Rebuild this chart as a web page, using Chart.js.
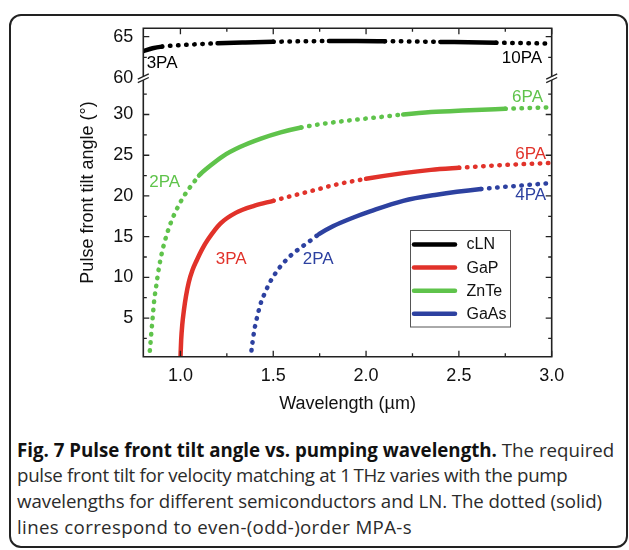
<!DOCTYPE html>
<html>
<head>
<meta charset="utf-8">
<script src="https://cdn.jsdelivr.net/npm/chart.js@4.4.1/dist/chart.umd.min.js"></script>
<style>
  body { margin: 0; background: #fff; }
  #wrap { position: relative; width: 629px; height: 550px; overflow: hidden; }
  #frame { position: absolute; left: 9px; top: 14px; width: 615px; height: 530px;
           border: 2px solid #222; border-radius: 12px; }
  #cv { position: absolute; left: 0; top: 0; }
  #caption { position: absolute; left: 17px; top: 436.5px; white-space: nowrap;
             font-family: "Open Sans"; font-size: 18.7px; line-height: 25.7px; color: #2b2b2b; }
  #caption b { color: #111; }
  .l2 { letter-spacing: -0.3px; }
  .l3 { letter-spacing: -0.1px; }
  .l4 { letter-spacing: 0.35px; }
</style>
</head>
<body>
<div id="wrap">
  <div id="frame"></div>
  <canvas id="cv" width="629" height="430"></canvas>
  <div id="caption"><b>Fig. 7 Pulse front tilt angle vs. pumping wavelength.</b> The required<br><span class="l2">pulse front tilt for velocity matching at 1&#8201;THz varies with the pump</span><br><span class="l3">wavelengths for different semiconductors and LN. The dotted (solid)</span><br><span class="l4">lines correspond to even-(odd-)order MPA-s</span></div>
</div>
<script>
// pulse front tilt (deg) vs pump wavelength (um)
const materials = ["cLN", "GaP", "ZnTe", "GaAs"]
const colors = ["#000000", "#e1322a", "#5fc34b", "#2d41a0"]
// band-gap wavelength: n-photon absorption sets in below n * this value
const gapWavelength = [0.3, 0.5, 0.55, 0.873]

const cLN_x = [0.80, 0.85, 0.90, 1.00, 1.10, 1.20, 1.35, 1.50, 1.65, 1.80, 1.95, 2.10, 2.25, 2.40, 2.55, 2.70, 2.85, 3.00]
const cLN_y = [63.25, 63.6, 63.8, 63.97, 64.1, 64.2, 64.3, 64.38, 64.44, 64.47, 64.47, 64.45, 64.42, 64.37, 64.32, 64.27, 64.22, 64.16]

const GaP_x = [1.000, 1.004, 1.010, 1.019, 1.030, 1.045, 1.065, 1.088, 1.118, 1.150, 1.215, 1.30, 1.40, 1.50, 1.59, 1.72, 1.84, 2.00, 2.20, 2.35, 2.50, 2.74, 3.00]
const GaP_y = [0, 2.3, 4.2, 6.0, 7.7, 9.4, 10.9, 12.1, 13.5, 14.7, 16.6, 17.95, 18.8, 19.4, 19.95, 20.7, 21.4, 22.1, 22.8, 23.2, 23.45, 23.8, 24.05]

const ZnTe_x = [0.831, 0.836, 0.843, 0.851, 0.859, 0.870, 0.883, 0.899, 0.919, 0.948, 0.983, 1.025, 1.073, 1.10, 1.16, 1.23, 1.32, 1.43, 1.54, 1.65, 1.75, 1.90, 2.04, 2.20, 2.35, 2.52, 2.75, 3.00]
const ZnTe_y = [0, 1.2, 3.1, 5.2, 7.2, 9.0, 11.0, 12.9, 14.7, 16.7, 18.5, 20.2, 21.7, 22.5, 23.7, 24.9, 26.0, 27.0, 27.8, 28.4, 28.8, 29.25, 29.6, 30.0, 30.3, 30.5, 30.7, 30.9]

const GaAs_x = [1.379, 1.384, 1.391, 1.397, 1.406, 1.415, 1.425, 1.438, 1.456, 1.471, 1.492, 1.515, 1.541, 1.573, 1.605, 1.645, 1.681, 1.711, 1.746, 1.824, 1.932, 2.022, 2.200, 2.380, 2.619, 2.741, 2.849, 3.000]
const GaAs_y = [0, 1.3, 2.4, 3.4, 4.4, 5.3, 6.2, 7.2, 8.1, 8.9, 9.8, 10.6, 11.4, 12.2, 12.9, 13.6, 14.2, 14.7, 15.3, 16.3, 17.35, 18.1, 19.4, 20.15, 20.85, 21.1, 21.3, 21.6]

const seriesX = [cLN_x, GaP_x, ZnTe_x, GaAs_x]
const seriesY = [cLN_y, GaP_y, ZnTe_y, GaAs_y]
const seriesAxis = ["yTop", "y", "y", "y"]

// ticks
const xMajor = [1.0, 1.5, 2.0, 2.5, 3.0]
const xMinor = [1.25, 1.75, 2.25, 2.75]
const yLowMajor = [5, 10, 15, 20, 25, 30]
const yLowMinor = [2.5, 7.5, 12.5, 17.5, 22.5, 27.5, 32.5]
const yTopMajor = [60, 65]
const yTopMinor = [62.5]

// order labels on the curves
const paText = ["3PA", "10PA", "6PA", "2PA", "3PA", "2PA", "6PA", "4PA"]
const paSeries = [0, 0, 2, 2, 1, 3, 1, 3]
const paX = [0.818, 2.948, 2.953, 0.915, 1.273, 1.742, 2.97, 2.97]
const paY = [61.8, 62.4, 32.1, 21.7, 12.2, 12.2, 25.1, 20.1]
const paAlign = ["left", "right", "right", "center", "center", "center", "right", "right"]

const FONT = "Liberation Sans"
Chart.defaults.font.family = FONT
Chart.defaults.color = "#111"

function tickList(major, minor) {
    return scale => {
        scale.ticks = major.concat(minor).sort((a, b) => a - b).map(v => ({ value: v }))
    }
}

const datasets = materials.map((name, i) => ({
    label: name,
    data: seriesX[i].map((x, k) => ({ x: x, y: seriesY[i][k] })),
    yAxisID: seriesAxis[i],
    borderColor: colors[i],
    backgroundColor: colors[i],
    borderWidth: 4.5,
    borderCapStyle: "round",
    borderJoinStyle: "round",
    pointRadius: 0,
    cubicInterpolationMode: "monotone",
    segment: {
        // even-order absorption -> dotted, odd-order -> solid
        borderDash: ctx => {
            const mid = (ctx.p0.parsed.x + ctx.p1.parsed.x) / 2
            const order = Math.ceil(mid / gapWavelength[i])
            return order % 2 === 0 ? [0.5, 7.6] : undefined
        }
    }
}))

const decor = {
    id: "decor",
    afterDatasetsDraw(chart) {
        const { ctx, chartArea: ca, scales } = chart
        const cut = scales.yTop.bottom
        ctx.save()
        ctx.strokeStyle = "#222"
        ctx.lineWidth = 1.6
        ctx.beginPath()
        ctx.moveTo(ca.left, cut - 1.8); ctx.lineTo(ca.left, ca.top); ctx.lineTo(ca.right, ca.top); ctx.lineTo(ca.right, cut - 1.8)
        ctx.moveTo(ca.left, cut + 1.8); ctx.lineTo(ca.left, ca.bottom); ctx.lineTo(ca.right, ca.bottom); ctx.lineTo(ca.right, cut + 1.8)
        ctx.stroke()

        ctx.lineWidth = 1.3
        ctx.beginPath()
        const xs = scales.x
        xMajor.concat(xMinor).forEach(v => {
            const len = xMajor.includes(v) ? 6 : 3.5
            const px = xs.getPixelForValue(v)
            ctx.moveTo(px, ca.bottom); ctx.lineTo(px, ca.bottom - len)
            ctx.moveTo(px, ca.top); ctx.lineTo(px, ca.top + len)
        })
        const yTicks = [[scales.y, yLowMajor, yLowMinor], [scales.yTop, yTopMajor.filter(v => v !== 60), yTopMinor]]
        yTicks.forEach(([sc, major, minor]) => {
            major.concat(minor).forEach(v => {
                const len = major.includes(v) ? 6 : 3.5
                const py = sc.getPixelForValue(v)
                ctx.moveTo(ca.left, py); ctx.lineTo(ca.left + len, py)
                ctx.moveTo(ca.right, py); ctx.lineTo(ca.right - len, py)
            })
        })
        ctx.stroke()

        // axis break marks
        ctx.lineWidth = 1.3
        ctx.beginPath();
        [ca.left, ca.right].forEach(x0 => {
            [-1.8, 1.8].forEach(d => {
                ctx.moveTo(x0 - 5.5, cut + d + 2.6)
                ctx.lineTo(x0 + 5.5, cut + d - 2.6)
            })
        })
        ctx.stroke()

        // order labels
        ctx.font = "17px '" + FONT + "'"
        ctx.textBaseline = "middle"
        paText.forEach((t, k) => {
            const s = paSeries[k]
            ctx.fillStyle = colors[s]
            ctx.textAlign = paAlign[k]
            ctx.fillText(t, xs.getPixelForValue(paX[k]), scales[seriesAxis[s]].getPixelForValue(paY[k]))
        })

        // legend box
        const lx = ca.right - 141.7, ly = ca.bottom - 126.7
        ctx.fillStyle = "#fff"
        ctx.fillRect(lx, ly, 100, 96.5)
        ctx.strokeStyle = "#555"
        ctx.lineWidth = 1
        ctx.strokeRect(lx + 0.5, ly + 0.5, 100, 96.5)
        ctx.font = "16px '" + FONT + "'"
        ctx.textAlign = "left"
        ctx.lineCap = "round"
        chart.data.datasets.forEach((d, k) => {
            const ry = ly + 14.5 + k * 23.1
            ctx.strokeStyle = d.borderColor
            ctx.lineWidth = 4.5
            ctx.beginPath()
            ctx.moveTo(lx + 4, ry); ctx.lineTo(lx + 45, ry)
            ctx.stroke()
            ctx.fillStyle = "#111"
            ctx.fillText(d.label, lx + 56.5, ry + 0.5)
        })

        // y axis title
        ctx.save()
        ctx.translate(88.5, (ca.top + ca.bottom) / 2)
        ctx.rotate(-Math.PI / 2)
        ctx.textAlign = "center"
        ctx.fillStyle = "#111"
        ctx.font = "18px '" + FONT + "'"
        ctx.fillText("Pulse front tilt angle (\u00b0)", 0, 0)
        ctx.restore()
        ctx.restore()
    }
}

const tickFont = { family: FONT, size: 18 }

new Chart("cv", {
    type: "line",
    data: { datasets: datasets },
    options: {
        responsive: false,
        animation: false,
        layout: { padding: { left: 83.3, right: 77.3, top: 28.3, bottom: 15.3 } },
        plugins: { legend: { display: false }, tooltip: { enabled: false } },
        scales: {
            x: {
                type: "linear", min: 0.8, max: 3.0,
                afterBuildTicks: tickList(xMajor, xMinor),
                afterFit: s => { s.height = 58 },
                grid: { display: false, drawTicks: false },
                border: { display: false },
                ticks: {
                    font: tickFont, padding: 8.5, maxRotation: 0, autoSkip: false,
                    callback: v => xMajor.includes(v) ? v.toFixed(1) : ""
                },
                title: { display: true, text: "Wavelength (\u00b5m)", font: { family: FONT, size: 18 }, padding: 0, color: "#111" }
            },
            // lower part of the broken axis is listed first so the upper part stacks above it
            y: {
                type: "linear", position: "left", stack: "tilt", stackWeight: 278.4,
                min: 0.25, max: 34.45,
                afterBuildTicks: tickList(yLowMajor, yLowMinor),
                afterFit: s => { s.width = 60 },
                grid: { display: false, drawTicks: false },
                border: { display: false },
                ticks: { font: tickFont, padding: 10, autoSkip: false,
                         callback: v => yLowMajor.includes(v) ? String(v) : "" }
            },
            yTop: {
                type: "linear", position: "left", stack: "tilt", stackWeight: 50,
                min: 60, max: 66,
                afterBuildTicks: tickList(yTopMajor, yTopMinor),
                afterFit: s => { s.width = 60 },
                grid: { display: false, drawTicks: false },
                border: { display: false },
                ticks: { font: tickFont, padding: 10, autoSkip: false,
                         callback: v => yTopMajor.includes(v) ? String(v) : "" }
            }
        }
    },
    plugins: [decor]
})
</script>
</body>
</html>
